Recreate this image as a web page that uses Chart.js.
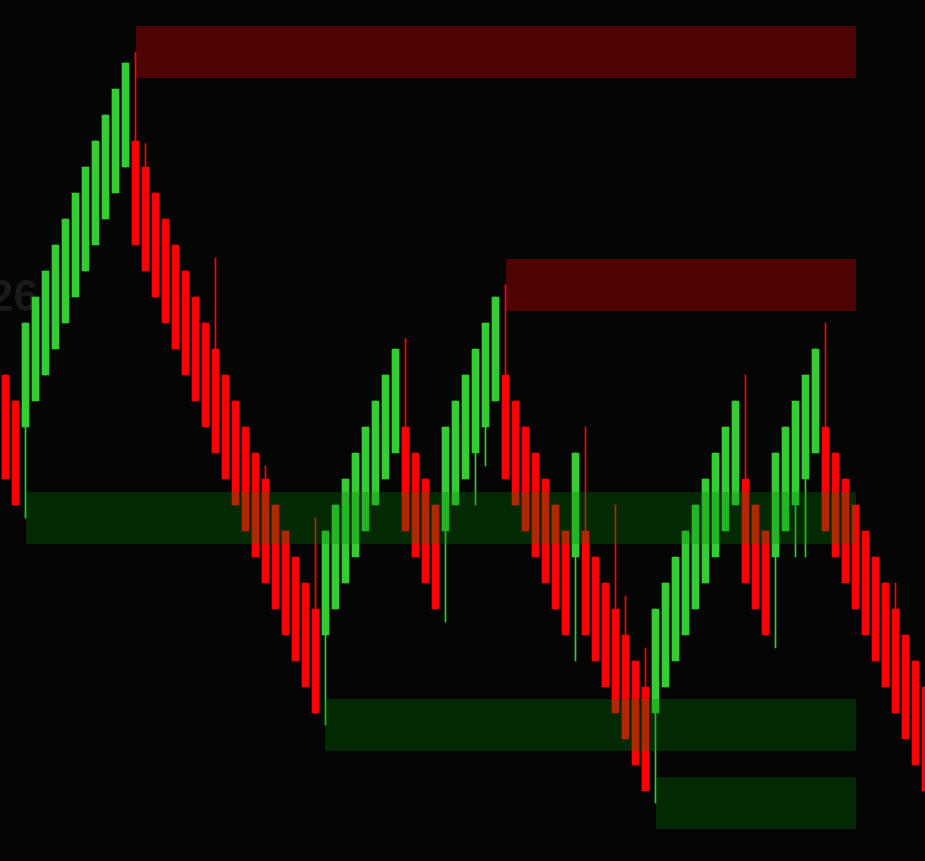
<!doctype html>
<html lang="en">
  <head>
    <meta charset="utf-8">
    <title>Renko bars with supply / demand zones</title>
    <style>
      * {
        margin: 0;
        padding: 0;
      }
      body {
        background: #040404;
      }
      .chartBox {
        width: 925px;
        height: 861px;
      }
    </style>
  </head>
  <body>
    <div class="chartBox">
      <canvas id="myChart"></canvas>
    </div>
    <script src="https://cdn.jsdelivr.net/npm/chart.js"></script>
    <script>
    // setup - one entry per bar (price in brick units)
    const opens = [19, 18, 17, 18, 19, 20, 21, 22, 23, 24, 25, 26, 27, 28, 27, 26, 25, 24, 23, 22,
      21, 20, 19, 18, 17, 16, 15, 14, 13, 12, 11, 10, 9, 10, 11, 12, 13, 14, 15, 16,
      17, 16, 15, 14, 13, 14, 15, 16, 17, 18, 19, 18, 17, 16, 15, 14, 13, 12, 13, 12,
      11, 10, 9, 8, 7, 6, 7, 8, 9, 10, 11, 12, 13, 14, 15, 14, 13, 12, 13, 14,
      15, 16, 17, 16, 15, 14, 13, 12, 11, 10, 9, 8, 7];
    const closes = [15, 14, 21, 22, 23, 24, 25, 26, 27, 28, 29, 30, 31, 24, 23, 22, 21, 20, 19, 18,
      17, 16, 15, 14, 13, 12, 11, 10, 9, 8, 7, 6, 13, 14, 15, 16, 17, 18, 19, 20,
      13, 12, 11, 10, 17, 18, 19, 20, 21, 22, 15, 14, 13, 12, 11, 10, 9, 16, 9, 8,
      7, 6, 5, 4, 3, 10, 11, 12, 13, 14, 15, 16, 17, 18, 11, 10, 9, 16, 17, 18,
      19, 20, 13, 12, 11, 10, 9, 8, 7, 6, 5, 4, 3];
    const highs = [19, 18, 21, 22, 23, 24, 25, 26, 27, 28, 29, 30, 31, 31.42, 27.9, 26, 25, 24, 23, 22,
      21, 23.5, 19, 18, 17, 16, 15.5, 14, 13, 12, 11, 13.5, 13, 14, 15, 16, 17, 18, 19, 20,
      20.4, 16, 15, 14, 17, 18, 19, 20, 21, 22, 22.46, 18, 17, 16, 15, 14, 13, 16, 17, 12,
      11, 14, 10.5, 8, 8.5, 10, 11, 12, 13, 14, 15, 16, 17, 18, 19, 14, 13, 16, 17, 18,
      19, 20, 21, 16, 15, 14, 13, 12, 11, 11, 9, 8, 7];
    const lows = [15, 14, 13.5, 18, 19, 20, 21, 22, 23, 24, 25, 26, 27, 24, 23, 22, 21, 20, 19, 18,
      17, 16, 15, 14, 13, 12, 11, 10, 9, 8, 7, 6, 5.54, 10, 11, 12, 13, 14, 15, 16,
      13, 12, 11, 10, 9.5, 14, 15, 14, 15.5, 18, 15, 14, 13, 12, 11, 10, 9, 8, 9, 8,
      7, 6, 5, 4, 3, 2.54, 7, 8, 9, 10, 11, 12, 13, 14, 11, 10, 9, 8.5, 13, 12,
      12, 16, 13, 12, 11, 10, 9, 8, 7, 6, 5, 4, 3];

    // zones: first bar, top, bottom, kind
    const zoneStart = [13, 50, 2, 32, 65];
    const zoneEnd = 85.05;
    const zoneTop = [32.42, 23.46, 14.5, 6.54, 3.54];
    const zoneBottom = [30.42, 21.46, 12.5, 4.54, 1.54];
    const zoneKind = ['supply', 'supply', 'demand', 'demand', 'demand'];

    const watermark = '26';

    const UP = 'rgb(50, 205, 50)';
    const DOWN = 'rgb(255, 0, 0)';
    const barColors = opens.map((o, i) => closes[i] >= o ? UP : DOWN);

    const bodies = opens.map((o, i) => ({ x: i, y: [o, closes[i]] }));
    const wicks = highs.map((h, i) => ({ x: i, y: [lows[i], h] }));

    const data = {
      datasets: [{
        label: 'body',
        data: bodies,
        backgroundColor: barColors,
        borderWidth: 0,
        barThickness: 7,
        grouped: false,
        order: 1
      }, {
        label: 'wick',
        data: wicks,
        backgroundColor: barColors,
        borderWidth: 0,
        barThickness: 1,
        grouped: false,
        order: 2
      }]
    };

    // background + watermark underneath the bars
    const backdrop = {
      id: 'backdrop',
      beforeDraw(chart) {
        const { ctx, width, height } = chart;
        ctx.save();
        ctx.fillStyle = '#040404';
        ctx.fillRect(0, 0, width, height);
        ctx.restore();
      },
      beforeDatasetsDraw(chart) {
        const ctx = chart.ctx;
        ctx.save();
        ctx.fillStyle = '#1a1a1a';
        ctx.font = 'bold 44px "Liberation Sans", Arial, sans-serif';
        ctx.textAlign = 'right';
        ctx.textBaseline = 'alphabetic';
        ctx.fillText(watermark, 38, 311);
        ctx.restore();
      }
    };

    // zones are laid over the bars, semi transparent
    const zones = {
      id: 'zones',
      afterDatasetsDraw(chart) {
        const { ctx, scales: { x, y } } = chart;
        ctx.save();
        zoneStart.forEach((s, i) => {
          const left = Math.round(x.getPixelForValue(s));
          const right = Math.round(x.getPixelForValue(zoneEnd));
          const top = Math.round(y.getPixelForValue(zoneTop[i]));
          const bottom = Math.round(y.getPixelForValue(zoneBottom[i]));
          ctx.fillStyle = zoneKind[i] === 'supply' ? 'rgba(255, 0, 0, 0.3)' : 'rgba(0, 128, 0, 0.3)';
          ctx.fillRect(left, top, right - left, bottom - top);
        });
        ctx.restore();
      }
    };

    // config
    const config = {
      type: 'bar',
      data,
      options: {
        responsive: true,
        maintainAspectRatio: false,
        animation: false,
        layout: { padding: 0 },
        plugins: {
          legend: { display: false },
          tooltip: { enabled: false }
        },
        scales: {
          x: {
            type: 'linear',
            display: false,
            offset: false,
            min: -0.55,
            max: 91.95
          },
          y: {
            display: false,
            min: 0.3077,
            max: 33.4231
          }
        }
      },
      plugins: [backdrop, zones]
    };

    const myChart = new Chart(
      document.getElementById('myChart'),
      config
    );
    </script>
  </body>
</html>
